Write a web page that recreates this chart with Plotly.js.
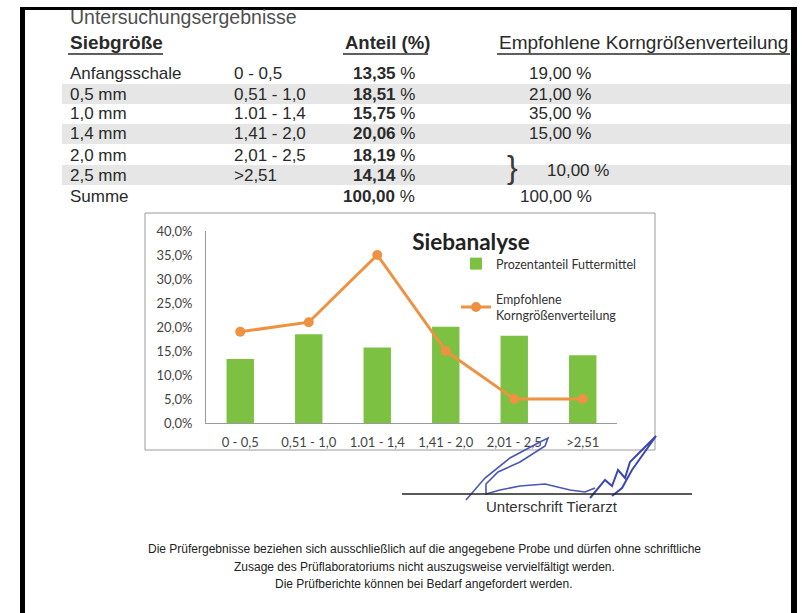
<!DOCTYPE html>
<html>
<head>
<meta charset="utf-8">
<script src="https://cdn.plot.ly/plotly-3.0.1.min.js"></script>
<style>html,body{margin:0;padding:0;background:#fff;}#chart{width:802px;height:613px;}</style>
</head>
<body>
<div id="chart"></div>
<script>
// ---- data ----
var siebgroesse = ["Anfangsschale", "0,5 mm", "1,0 mm", "1,4 mm", "2,0 mm", "2,5 mm"];
var categories = ["0 - 0,5", "0,51 - 1,0", "1.01 - 1,4", "1,41 - 2,0", "2,01 - 2,5", ">2,51"];
var anteil = [13.35, 18.51, 15.75, 20.06, 18.19, 14.14];
var empfohlenTable = [19.00, 21.00, 35.00, 15.00, 10.00];
var empfohlenChart = [19, 21, 35, 15, 5, 5];
var yTicks = [0, 5, 10, 15, 20, 25, 30, 35, 40];
var seriesNames = ["Prozentanteil Futtermittel", "Empfohlene<br>Korngrößenverteilung"];
var footer = [
  "Die Prüfergebnisse beziehen sich ausschließlich auf die angegebene Probe und dürfen ohne schriftliche",
  "Zusage des Prüflaboratoriums nicht auszugsweise vervielfältigt werden.",
  "Die Prüfberichte können bei Bedarf angefordert werden."
];

// ---- helpers (page pixel -> paper) ----
var W = 802, H = 613;
function px(x){ return x / W; }
function py(y){ return 1 - y / H; }
function fmt(v){ return v.toFixed(2).replace('.', ','); }
var docFont = "Liberation Sans, Arial, sans-serif";
var chFont = "Lato, Open Sans, sans-serif";

var ann = [];
var shapes = [];
function txt(x, y, t, size, color, anchor){
  ann.push({xref:'paper', yref:'paper', x:px(x), y:py(y), text:t, showarrow:false,
    xanchor:anchor||'left', yanchor:'middle', font:{family:docFont, size:size, color:color||'#2a2a2a'}});
}

// table shading
var rowY = [73, 94, 114, 134, 155, 175, 196];
[1, 3, 5].forEach(function(i){
  shapes.push({type:'rect', xref:'paper', yref:'paper', x0:px(62), x1:px(792), y0:py(rowY[i]-10), y1:py(rowY[i]+10),
    fillcolor:'#e6e6e6', line:{width:0}, layer:'below'});
});

// heading
txt(68, 17, "Untersuchungsergebnisse", 19.5, '#505050');
txt(68, 43, "<b>Siebgröße</b>", 19, '#2a2a2a');
txt(343, 43, "<b>Anteil (%)</b>", 18.5, '#2a2a2a');
txt(497, 43, "Empfohlene Korngrößenverteilung", 19, '#2a2a2a');
[[68,163],[343,428],[497,790]].forEach(function(u){
  shapes.push({type:'line', xref:'paper', yref:'paper', x0:px(u[0]), x1:px(u[1]), y0:py(54), y1:py(54), line:{color:'#2a2a2a', width:1.5}});
});

// rows
var sum = 0;
for (var i = 0; i < siebgroesse.length; i++){
  txt(68, rowY[i], siebgroesse[i], 17);
  txt(232, rowY[i], categories[i], 17);
  txt(417, rowY[i], "<b>" + fmt(anteil[i]) + "</b> %", 17, '#2a2a2a', 'right');
  sum += anteil[i];
}
for (var j = 0; j < 4; j++){
  txt(593, rowY[j], fmt(empfohlenTable[j]) + " %", 17, '#2a2a2a', 'right');
}
txt(512, 167, "}", 32, '#3a3a3a', 'center');
txt(611, 171, fmt(empfohlenTable[4]) + " %", 17, '#2a2a2a', 'right');
txt(68, rowY[6], "Summe", 17);
txt(417, rowY[6], "<b>" + fmt(sum) + "</b> %", 17, '#2a2a2a', 'right');
var sumE = empfohlenTable.reduce(function(a,b){return a+b;}, 0);
txt(594, rowY[6], fmt(sumE) + " %", 17, '#2a2a2a', 'right');

// chart frame
shapes.push({type:'rect', xref:'paper', yref:'paper', x0:px(145), x1:px(655), y0:py(213), y1:py(450),
  line:{color:'#9a9a9a', width:1}, fillcolor:'rgba(0,0,0,0)'});

// signature scribble
function pth(pts){
  return pts.map(function(p, k){ return (k ? 'L' : 'M') + px(p[0]).toFixed(4) + ',' + py(p[1]).toFixed(4); }).join(' ');
}
shapes.push({type:'path', xref:'paper', yref:'paper', line:{color:'#4a55b8', width:1.6},
  path: pth([[466,500],[485,478],[510,458],[540,442],[548,438],[545,446],[520,462],[498,472],[486,484],[486,494],[500,490],[520,486],[545,484],[570,490],[585,492],[595,488]])});
shapes.push({type:'path', xref:'paper', yref:'paper', line:{color:'#3c48b0', width:2},
  path: pth([[590,498],[605,480],[612,486],[618,470],[625,478],[630,462],[640,452],[656,436],[632,470],[622,488],[612,496]])});

// signature line + label
shapes.push({type:'line', xref:'paper', yref:'paper', x0:px(402), x1:px(692), y0:py(494), y1:py(494), line:{color:'#222', width:1.5}});
txt(552, 507, "Unterschrift Tierarzt", 15, '#333', 'center');

// footer
footer.forEach(function(l, k){ txt(424, 549 + k*17.5, l, 12, '#222', 'center'); });

// page borders (scan)
shapes.push({type:'rect', xref:'paper', yref:'paper', x0:px(20), x1:px(797), y0:py(7), y1:py(10), fillcolor:'#000', line:{width:0}});
shapes.push({type:'rect', xref:'paper', yref:'paper', x0:px(20), x1:px(25), y0:py(7), y1:py(613), fillcolor:'#000', line:{width:0}});
shapes.push({type:'rect', xref:'paper', yref:'paper', x0:px(791), x1:px(797), y0:py(7), y1:py(613), fillcolor:'#000', line:{width:0}});

var traces = [
  {type:'bar', x:categories, y:anteil, name:seriesNames[0], marker:{color:'#7cc142'}, legendgroup:'a'},
  {type:'scatter', mode:'lines+markers', x:categories, y:empfohlenChart, name:seriesNames[1], legendgroup:'b',
    line:{color:'#ee9140', width:3}, marker:{color:'#ee9140', size:10}}
];

var layout = {
  width:W, height:H, margin:{l:0, r:0, t:0, b:0},
  paper_bgcolor:'#fff', plot_bgcolor:'rgba(0,0,0,0)',
  separators:',.',
  bargap:0.6,
  title:{text:'<b>Siebanalyse</b>', x:px(471), y:py(242), xref:'paper', yref:'paper', xanchor:'center', yanchor:'middle',
    font:{family:chFont, size:22.5, color:'#222'}},
  xaxis:{domain:[px(206), px(617)], type:'category', showline:true, linecolor:'#9a9a9a', linewidth:1,
    ticks:'', tickfont:{family:chFont, size:13, color:'#444'}, ticklabelstandoff:7, fixedrange:true},
  yaxis:{domain:[py(423), py(231)], range:[0,40], tickvals:yTicks,
    ticktext:yTicks.map(function(v){ return v.toFixed(1).replace('.', ',') + '%'; }),
    showgrid:false, zeroline:false, showline:true, linecolor:'#9a9a9a', linewidth:1, ticks:'',
    tickfont:{family:chFont, size:13, color:'#444'}, ticklabelstandoff:10, fixedrange:true},
  showlegend:true,
  legend:{x:px(456), y:py(249), xanchor:'left', yanchor:'top', bgcolor:'rgba(0,0,0,0)',
    font:{family:chFont, size:12.5, color:'#333'}, tracegroupgap:16, itemwidth:30, traceorder:'grouped'},
  annotations:ann,
  shapes:shapes
};

Plotly.newPlot('chart', traces, layout, {displayModeBar:false, staticPlot:true});
</script>
</body>
</html>
